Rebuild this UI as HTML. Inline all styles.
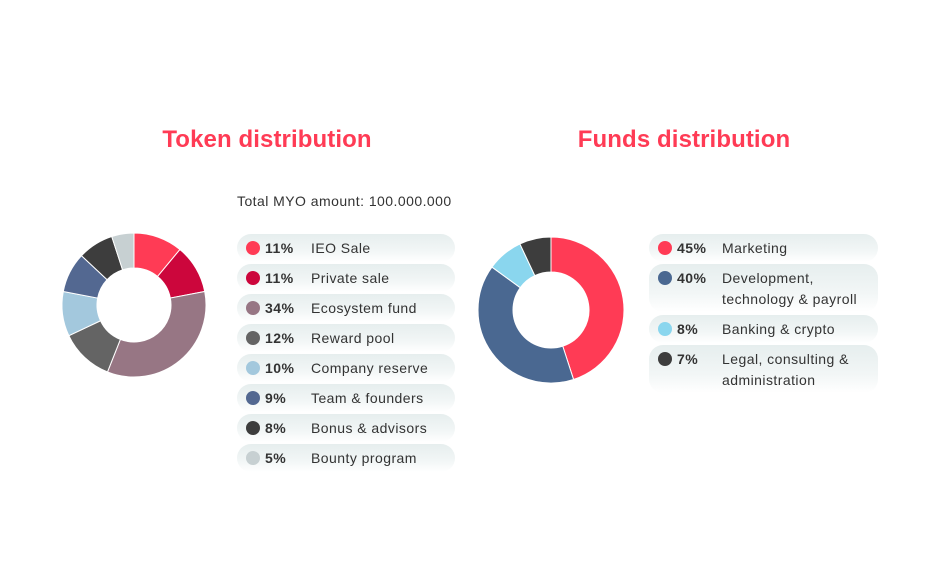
<!DOCTYPE html>
<html><head><meta charset="utf-8">
<style>
body{margin:0;background:#fff;width:936px;height:573px;overflow:hidden;font-family:"Liberation Sans",sans-serif;position:relative;color:#333;letter-spacing:0.45px}
.title{position:absolute;top:126px;font-size:24px;font-weight:bold;color:#ff3b55;width:300px;text-align:center;letter-spacing:0.1px}
.pill{position:absolute;border-radius:14px;background:linear-gradient(to bottom,#e6eeee 0%,#f2f6f6 60%,#fff 100%);font-size:14px}
.dot{position:absolute;left:9px;top:7px;width:14px;height:14px;border-radius:50%}
.pct{position:absolute;top:6px;font-weight:bold}
.lab{position:absolute;line-height:21px;top:4px}
svg{position:absolute;left:0;top:0}
</style></head><body>
<div class="title" style="left:117px">Token distribution</div>
<div class="title" style="left:534px">Funds distribution</div>
<div style="position:absolute;left:237px;top:193px;font-size:14px">Total MYO amount: 100.000.000</div>
<svg id="chart" width="936" height="573"></svg>
<div id="legends"></div>
<script>
const tokenLabels=["IEO Sale","Private sale","Ecosystem fund","Reward pool","Company reserve","Team & founders","Bonus & advisors","Bounty program"];
const tokenValues=[11,11,34,12,10,9,8,5];
const tokenColors=["#ff3b55","#cc063c","#977684","#646464","#a3c8dd","#536891","#3d3d3d","#c7d0d2"];
const fundsLabels=["Marketing","Development,<br>technology &amp; payroll","Banking &amp; crypto","Legal, consulting &amp;<br>administration"];
const fundsValues=[45,40,8,7];
const fundsColors=["#ff3b55","#4a6891","#8ad6ee","#3d3d3d"];
const NS="http://www.w3.org/2000/svg";
const svg=document.getElementById('chart');
function donut(vals,cols,cx,cy,R,r,name){
  const tot=vals.reduce((a,b)=>a+b,0);let a0=-Math.PI/2;
  vals.forEach((v,i)=>{
    const a1=a0+v/tot*2*Math.PI,lg=(a1-a0)>Math.PI?1:0;
    const p=(rad,a)=>[cx+rad*Math.cos(a),cy+rad*Math.sin(a)];
    const [x0,y0]=p(R,a0),[x1,y1]=p(R,a1),[x2,y2]=p(r,a1),[x3,y3]=p(r,a0);
    const el=document.createElementNS(NS,'path');
    el.setAttribute('d',`M${x0},${y0}A${R},${R} 0 ${lg} 1 ${x1},${y1}L${x2},${y2}A${r},${r} 0 ${lg} 0 ${x3},${y3}Z`);
    el.setAttribute('fill',cols[i]);el.setAttribute('stroke','#fff');el.setAttribute('stroke-width','1');
    
    
    svg.appendChild(el);a0=a1;
  });
}
donut(tokenValues,tokenColors,134,305,72,37,'token');
donut(fundsValues,fundsColors,551,310,73,38,'funds');
const L=document.getElementById('legends');
function legend(labels,vals,cols,x,w,tops,heights,pctX,labX,name){
  labels.forEach((t,i)=>{
    const d=document.createElement('div');d.className='pill';
    
    
    d.style.cssText=`left:${x}px;top:${tops[i]}px;width:${w}px;height:${heights[i]}px`;
    d.innerHTML=`<div class="dot" style="background:${cols[i]}"></div><div class="pct" style="left:${pctX}px">${vals[i]}%</div><div class="lab" style="left:${labX}px">${t}</div>`;
    L.appendChild(d);
  });
}
legend(tokenLabels,tokenValues,tokenColors,237,218,[234,264,294,324,354,384,414,444],[28,28,28,28,28,28,28,28],28,74,'token');
legend(fundsLabels,fundsValues,fundsColors,649,229,[234,264,315,345],[28,48,28,48],28,73,'funds');
</script>
</body></html>
